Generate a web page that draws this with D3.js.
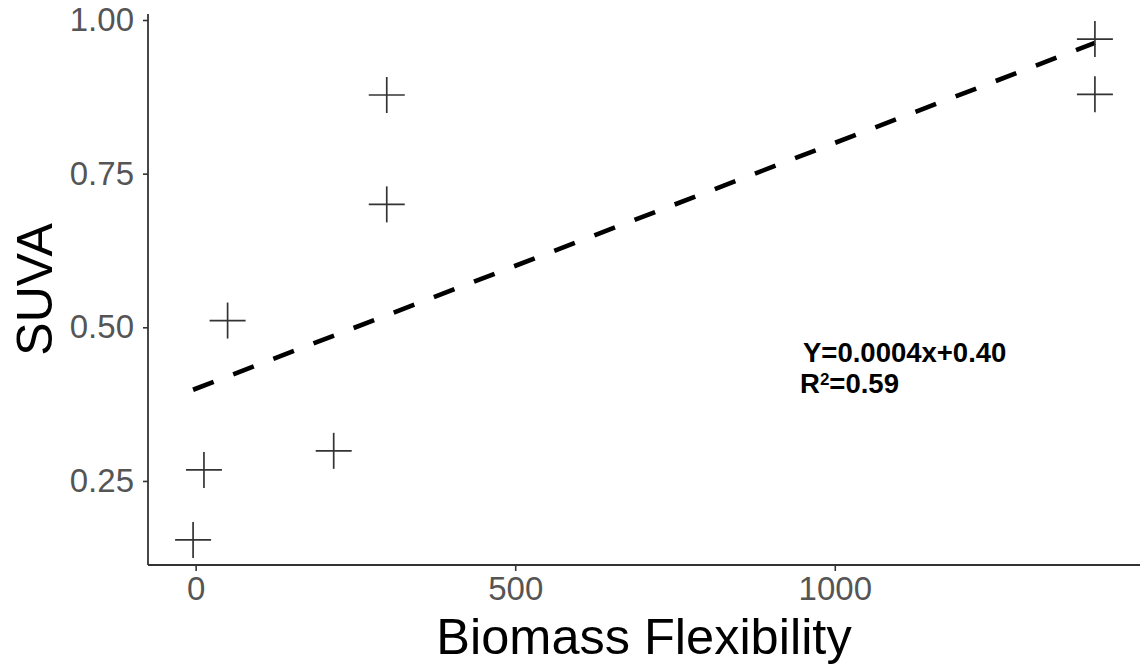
<!DOCTYPE html>
<html>
<head>
<meta charset="utf-8">
<script src="https://cdn.jsdelivr.net/npm/d3@7"></script>
<style>
  html, body { margin: 0; padding: 0; background: #fff; }
  svg { display: block; }
  text { font-family: "Liberation Sans", Arial, Helvetica, sans-serif; }
</style>
</head>
<body>
<svg id="chart" width="1143" height="665"></svg>
<script>
// Observations: biomass flexibility vs SUVA
const flexibility = [-4, 13, 50, 216, 299, 299, 1407, 1407];
const suva        = [0.154, 0.268, 0.511, 0.299, 0.878, 0.700, 0.969, 0.879];

// Linear fit reported on the chart
const fitSlope = 0.0004;
const fitIntercept = 0.40;
const fitLabel = "Y=0.0004x+0.40";
const r2Value = "0.59";

const xTicks = [0, 500, 1000];
const yTicks = [0.25, 0.50, 0.75, 1.00];

const xTitle = "Biomass Flexibility";
const yTitle = "SUVA";

const W = 1143, H = 665;
const panel = { left: 148, right: 1140, top: 14, bottom: 565 };

const svg = d3.select("#chart");

// Panel limits padded by 5% of the data range on each side
function padded(ext) {
  const d = (ext[1] - ext[0]) * 0.05;
  return [ext[0] - d, ext[1] + d];
}

const x = d3.scaleLinear()
  .domain(padded(d3.extent(flexibility)))
  .range([panel.left, panel.right]);

const y = d3.scaleLinear()
  .domain(padded(d3.extent(suva)))
  .range([panel.bottom, panel.top]);

const axisColor = "#333333";
const tickLabelColor = "#555555";

// X axis
const gx = svg.append("g")
  .attr("transform", `translate(0,${panel.bottom})`)
  .call(d3.axisBottom(x).tickValues(xTicks).tickFormat(d3.format("d")).tickSizeOuter(0).tickSize(6).tickPadding(6));
gx.select(".domain").remove();
gx.append("line")
  .attr("x1", panel.left).attr("x2", panel.right)
  .attr("stroke", axisColor).attr("stroke-width", 1.8);
gx.selectAll(".tick line").attr("stroke", axisColor).attr("stroke-width", 1.6);
gx.selectAll(".tick text")
  .attr("fill", tickLabelColor)
  .attr("font-size", 33)
  .attr("font-family", "Liberation Sans, Arial, sans-serif");

// Y axis
const gy = svg.append("g")
  .attr("transform", `translate(${panel.left},0)`)
  .call(d3.axisLeft(y).tickValues(yTicks).tickFormat(d3.format(".2f")).tickSizeOuter(0).tickSize(5).tickPadding(9));
gy.select(".domain").remove();
gy.append("line")
  .attr("y1", panel.top).attr("y2", panel.bottom)
  .attr("stroke", axisColor).attr("stroke-width", 1.8);
gy.selectAll(".tick line").attr("stroke", axisColor).attr("stroke-width", 1.6);
gy.selectAll(".tick text")
  .attr("fill", tickLabelColor)
  .attr("font-size", 33)
  .attr("font-family", "Liberation Sans, Arial, sans-serif");

// Axis titles
svg.append("text")
  .attr("x", (panel.left + panel.right) / 2)
  .attr("y", 654)
  .attr("text-anchor", "middle")
  .attr("font-size", 50.5)
  .attr("fill", "#000")
  .text(xTitle);

svg.append("text")
  .attr("transform", `translate(52,${(panel.top + panel.bottom) / 2}) rotate(-90)`)
  .attr("text-anchor", "middle")
  .attr("font-size", 50)
  .attr("fill", "#000")
  .text(yTitle);

// Fitted line across the observed range
const xExt = d3.extent(flexibility);
const fitLine = xExt.map(v => [v, fitIntercept + fitSlope * v]);
svg.append("path")
  .datum(fitLine)
  .attr("d", d3.line().x(d => x(d[0])).y(d => y(d[1])))
  .attr("fill", "none")
  .attr("stroke", "#000")
  .attr("stroke-width", 4.6)
  .attr("stroke-dasharray", "22,21");

// Plus-shaped point markers
const half = 18;
const pts = svg.append("g").selectAll("g")
  .data(flexibility.map((v, i) => [v, suva[i]]))
  .join("g")
  .attr("transform", d => `translate(${x(d[0])},${y(d[1])})`);
pts.append("line").attr("x1", -half).attr("x2", half)
  .attr("stroke", "#333").attr("stroke-width", 1.7);
pts.append("line").attr("y1", -half).attr("y2", half)
  .attr("stroke", "#333").attr("stroke-width", 1.7);

// Fit annotation
const ann = svg.append("g").attr("font-weight", "bold").attr("font-size", 27.5).attr("fill", "#000");
ann.append("text").attr("x", 803).attr("y", 362).text(fitLabel);
const r2 = ann.append("text").attr("x", 800).attr("y", 393);
r2.append("tspan").text("R");
r2.append("tspan").attr("font-size", 17).attr("dy", -8).text("2");
r2.append("tspan").attr("dy", 8).text("=" + r2Value);
</script>
</body>
</html>
